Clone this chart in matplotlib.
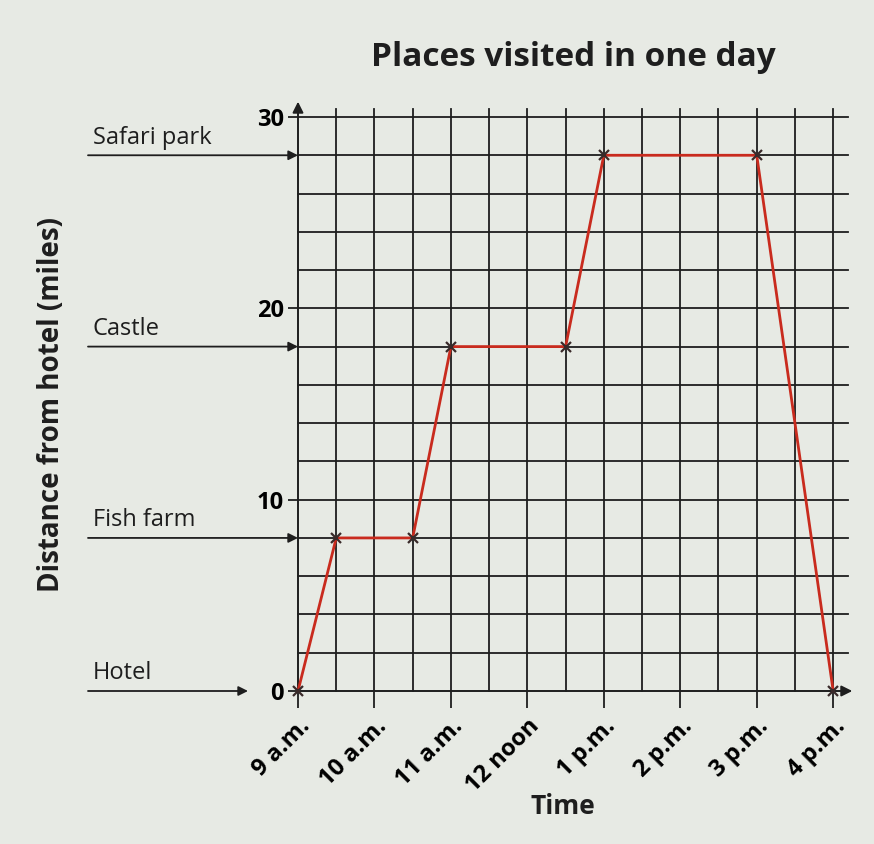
"""Distance-time graph: places visited in one day."""
import matplotlib.pyplot as plt
from matplotlib.transforms import blended_transform_factory

plt.rcParams["font.family"] = ["Open Sans", "DejaVu Sans"]

# data
times = [9, 9.5, 10.5, 11, 12.5, 13, 15, 16]
dist = [0, 8, 8, 18, 18, 28, 28, 0]
places = ["Hotel", "Fish farm", "Castle", "Safari park"]
place_dist = [0, 8, 18, 28]
hours = [9, 10, 11, 12, 13, 14, 15, 16]
hour_labels = ["9 a.m.", "10 a.m.", "11 a.m.", "12 noon",
               "1 p.m.", "2 p.m.", "3 p.m.", "4 p.m."]
yticks = [0, 10, 20, 30]

BG = "#e7eae4"
INK = "#1e1e1e"

fig = plt.figure(figsize=(8.74, 8.44), dpi=100, facecolor=BG)
ax = fig.add_axes([298 / 874, 1 - 691 / 844, 552 / 874, 574 / 844])
ax.set_facecolor(BG)
ax.set_xlim(9, 16.22)
ax.set_ylim(0, 30)
for s in ax.spines.values():
    s.set_visible(False)

# grid paper
half_hours = [9 + 0.5 * i for i in range(15)]
for x in half_hours[1:]:
    ax.plot([x, x], [0, 30.4], color=INK, lw=1.3, clip_on=False, zorder=1)
for y in range(2, 31, 2):
    ax.plot([9, 16.2], [y, y], color=INK, lw=1.3, clip_on=False, zorder=1)

# axes with arrows
arrow = dict(arrowstyle="-|>", color=INK, lw=1.4, mutation_scale=16,
             shrinkA=0, shrinkB=0)
ax.annotate("", xy=(9, 30.8), xytext=(9, 0), arrowprops=arrow,
            annotation_clip=False)
ax.annotate("", xy=(16.25, 0), xytext=(9, 0), arrowprops=arrow,
            annotation_clip=False)

# ticks
ax.set_xticks(hours)
ax.set_xticklabels(hour_labels, rotation=45, ha="right", va="top",
                   rotation_mode="anchor", fontsize=17, fontweight="bold")
ax.tick_params(axis="x", length=12, width=1.3, color=INK, pad=5)
ax.set_yticks(yticks)
ax.set_yticklabels([str(v) for v in yticks], fontsize=17, fontweight="bold")
ax.tick_params(axis="y", length=7, width=1.3, color=INK, pad=3)

# journey
ax.plot(times, dist, color="#c92b1e", lw=2, zorder=3, clip_on=False)
ax.plot(times, dist, "x", color="#3a2a2a", ms=7, mew=1.6, zorder=4,
        clip_on=False)

# place labels with arrows
trans = blended_transform_factory(fig.transFigure, ax.transData)
for name, d in zip(places, place_dist):
    end = 248 / 874 if d == 0 else 298 / 874
    ax.annotate("", xy=(end, d), xytext=(88 / 874, d),
                xycoords=trans, textcoords=trans,
                arrowprops=dict(arrowstyle="-|>", color=INK, lw=1.3,
                                mutation_scale=14, shrinkA=0, shrinkB=0),
                annotation_clip=False)
    ax.annotate(name, xy=(93 / 874, d), xycoords=trans,
                xytext=(0, 4), textcoords="offset points",
                ha="left", va="bottom", fontsize=17, color=INK,
                annotation_clip=False)

fig.text(573 / 874, 1 - 57 / 844, "Places visited in one day",
         ha="center", va="center", fontsize=24, fontweight="bold", color=INK)
fig.text(52 / 874, 1 - 405 / 844, "Distance from hotel (miles)",
         ha="center", va="center", rotation=90, fontsize=20,
         fontweight="bold", color=INK)
fig.text(563 / 874, 1 - 806 / 844, "Time", ha="center", va="center",
         fontsize=19, fontweight="bold", color=INK)

fig.savefig("out.png", dpi=100, facecolor=BG)
